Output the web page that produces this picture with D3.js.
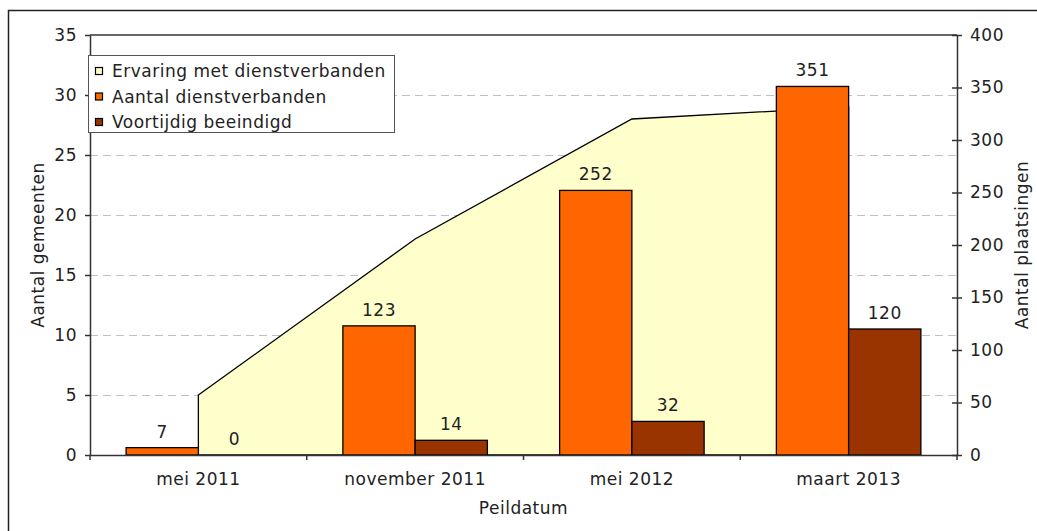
<!DOCTYPE html>
<html><head><meta charset="utf-8">
<script src="https://cdn.jsdelivr.net/npm/d3@7"></script>
<style>
html,body{margin:0;padding:0;background:#fff;}
svg{display:block;}
text{font-family:"DejaVu Sans",Verdana,sans-serif;fill:#222;letter-spacing:0.5px;}
</style></head>
<body>
<svg id="chart" width="1037" height="531"></svg>
<script>
const categories = ["mei 2011", "november 2011", "mei 2012", "maart 2013"];
const ervaring = [5, 18, 28, 29];          // Aantal gemeenten (left axis)
const aantalDienstverbanden = [7, 123, 252, 351];  // right axis
const voortijdigBeeindigd = [0, 14, 32, 120];      // right axis
const leftTicks = [0, 5, 10, 15, 20, 25, 30, 35];
const rightTicks = [0, 50, 100, 150, 200, 250, 300, 350, 400];
const legendLabels = ["Ervaring met dienstverbanden", "Aantal dienstverbanden", "Voortijdig beeindigd"];
const colors = ["#FFFFCC", "#FF6600", "#993300"];

const svg = d3.select("#chart");
const m = {left: 90, right: 957, top: 35, bottom: 455};
const FS = 17;

// outer border
svg.append("rect").attr("x", 8.5).attr("y", 10.5).attr("width", 1040).attr("height", 540)
  .attr("fill", "none").attr("stroke", "#222").attr("stroke-width", 1.5);

const x0 = d3.scaleBand().domain(categories).range([m.left, m.right]).padding(0);
const bw = x0.bandwidth();
const x1 = d3.scaleBand().domain(["a", "v"]).range([bw / 6, bw * 5 / 6]).padding(0);
const yL = d3.scaleLinear().domain([0, 35]).range([m.bottom, m.top]);
const yR = d3.scaleLinear().domain([0, 400]).range([m.bottom, m.top]);

// gridlines
svg.append("g").selectAll("line").data(leftTicks.filter(t => t > 0 && t < 35)).join("line")
  .attr("x1", m.left).attr("x2", m.right)
  .attr("y1", d => Math.round(yL(d)) + 0.5).attr("y2", d => Math.round(yL(d)) + 0.5)
  .attr("stroke", "#c0c0c0").attr("stroke-width", 1).attr("stroke-dasharray", "8,5");

// area
const cx = d => x0(d) + bw / 2;
const areaData = categories.map((c, i) => ({c, v: ervaring[i]}));
const area = d3.area().x(d => cx(d.c)).y0(yL(0)).y1(d => yL(d.v));
svg.append("path").attr("d", area(areaData))
  .attr("fill", colors[0]).attr("stroke", "#000").attr("stroke-width", 1.3).attr("stroke-linejoin", "miter");

// bars
const barData = [];
categories.forEach((c, i) => {
  barData.push({c, k: "a", v: aantalDienstverbanden[i], col: colors[1]});
  barData.push({c, k: "v", v: voortijdigBeeindigd[i], col: colors[2]});
});
svg.append("g").selectAll("rect").data(barData).join("rect")
  .attr("x", d => x0(d.c) + x1(d.k))
  .attr("width", x1.bandwidth())
  .attr("y", d => yR(d.v))
  .attr("height", d => yR(0) - yR(d.v))
  .attr("fill", d => d.col).attr("stroke", "#000").attr("stroke-width", 1.3);

// value labels
svg.append("g").selectAll("text").data(barData).join("text")
  .attr("x", d => x0(d.c) + x1(d.k) + x1.bandwidth() / 2)
  .attr("y", d => yR(d.v) - 10)
  .attr("text-anchor", "middle").attr("font-size", FS)
  .text(d => d.v);

// plot frame top
svg.append("line").attr("x1", m.left).attr("x2", m.right).attr("y1", m.top).attr("y2", m.top)
  .attr("stroke", "#333").attr("stroke-width", 1.5);

// left axis
const gL = svg.append("g").attr("transform", `translate(${m.left},0)`)
  .call(d3.axisLeft(yL).tickValues(leftTicks).tickSize(5).tickSizeOuter(0).tickPadding(8));
// right axis
const gR = svg.append("g").attr("transform", `translate(${m.right},0)`)
  .call(d3.axisRight(yR).tickValues(rightTicks).tickSize(5).tickSizeOuter(0).tickPadding(8));
gR.selectAll(".tick line").attr("x1", -5);
// bottom axis
const gB = svg.append("g").attr("transform", `translate(0,${m.bottom})`)
  .call(d3.axisBottom(x0).tickSize(0).tickSizeOuter(0).tickPadding(18));
// category boundary ticks
svg.append("g").selectAll("line").data(categories.concat(["end"])).join("line")
  .attr("x1", (d, i) => m.left + i * bw).attr("x2", (d, i) => m.left + i * bw)
  .attr("y1", m.bottom).attr("y2", m.bottom + 5).attr("stroke", "#333").attr("stroke-width", 1.5);

[gL, gR, gB].forEach(g => {
  g.selectAll(".domain").attr("stroke", "#333").attr("stroke-width", 1.5);
  g.selectAll(".tick line").attr("stroke", "#333").attr("stroke-width", 1.5);
  g.selectAll("text").attr("font-size", FS).attr("fill", "#222")
    .attr("font-family", '"DejaVu Sans",Verdana,sans-serif');
});

// axis titles
svg.append("text").attr("transform", `translate(44,${(m.top + m.bottom) / 2}) rotate(-90)`)
  .attr("text-anchor", "middle").attr("font-size", FS).text("Aantal gemeenten");
svg.append("text").attr("transform", `translate(1028,${(m.top + m.bottom) / 2}) rotate(-90)`)
  .attr("text-anchor", "middle").attr("font-size", FS).text("Aantal plaatsingen");
svg.append("text").attr("x", (m.left + m.right) / 2).attr("y", 514)
  .attr("text-anchor", "middle").attr("font-size", FS).text("Peildatum");

// legend
const lg = svg.append("g");
lg.append("rect").attr("x", 88.5).attr("y", 55.5).attr("width", 306).attr("height", 77)
  .attr("fill", "#fff").attr("stroke", "#555").attr("stroke-width", 1);
legendLabels.forEach((t, i) => {
  const cy = 71 + i * 25.5;
  lg.append("rect").attr("x", 95.5).attr("y", cy - 3.5).attr("width", 7).attr("height", 7)
    .attr("fill", colors[i]).attr("stroke", "#000").attr("stroke-width", 1.2);
  lg.append("text").attr("x", 112).attr("y", cy + 6).attr("font-size", FS).text(t);
});
</script>
</body></html>
